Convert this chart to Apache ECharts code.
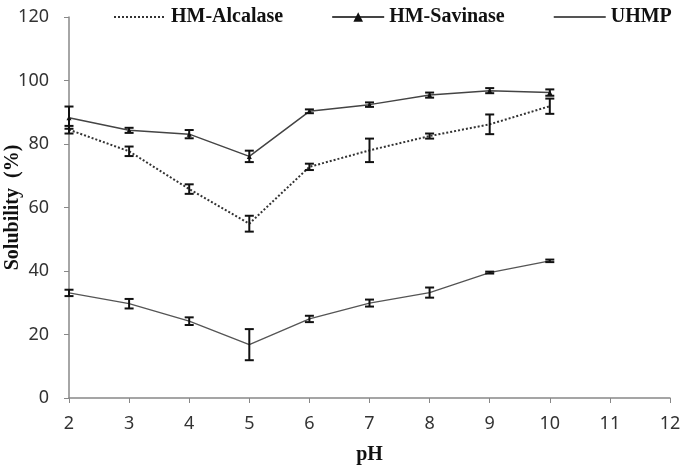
<!DOCTYPE html>
<html>
<head>
<meta charset="utf-8">
<script src="https://cdn.jsdelivr.net/npm/echarts@6/dist/echarts.min.js"></script>
<style>
  html, body { margin: 0; padding: 0; background: #fff; }
  #chart { width: 685px; height: 471px; }
</style>
</head>
<body>
<div id="chart"></div>
<script>
// pH values (x axis)
const phValues = [2, 3, 4, 5, 6, 7, 8, 9, 10]
// solubility (%) and its error
const alcalase = [84.5, 77.7, 65.8, 54.9, 72.8, 78.0, 82.5, 86.2, 91.9]
const alcalaseErr = [1.2, 1.5, 1.5, 2.5, 1.0, 3.7, 0.8, 3.1, 2.4]
const savinase = [88.3, 84.3, 83.1, 76.1, 90.3, 92.4, 95.4, 96.8, 96.2]
const savinaseErr = [3.5, 0.8, 1.3, 1.8, 0.6, 0.7, 0.8, 0.8, 1.0]
const uhmp = [33.1, 29.7, 24.2, 16.8, 24.9, 29.9, 33.2, 39.5, 43.2]
const uhmpErr = [1.0, 1.5, 1.2, 4.9, 1.0, 1.1, 1.6, 0.3, 0.4]
const seriesNames = ['HM-Alcalase', 'HM-Savinase', 'UHMP']

const chart = echarts.init(document.getElementById('chart'))

// 把数值转成 [x, y] 点
const toPoints = arr => arr.map((v, i) => [phValues[i], v])
// 误差线数据 [x, low, high]
const toErr = (arr, err) => arr.map((v, i) => [phValues[i], v - err[i], v + err[i]])

// 误差线 (工字形)
function errorSeries (arr, err) {
  return {
    type: 'custom',
    silent: true,
    z: 5,
    data: toErr(arr, err),
    encode: { x: 0, y: [1, 2] },
    renderItem (params, api) {
      const x = api.value(0)
      const lo = api.coord([x, api.value(1)])
      const hi = api.coord([x, api.value(2)])
      const w = 4.5
      const style = { stroke: '#111', lineWidth: 2 }
      return {
        type: 'group',
        children: [
          { type: 'line', shape: { x1: lo[0], y1: lo[1], x2: hi[0], y2: hi[1] }, style },
          { type: 'line', shape: { x1: lo[0] - w, y1: lo[1], x2: lo[0] + w, y2: lo[1] }, style },
          { type: 'line', shape: { x1: hi[0] - w, y1: hi[1], x2: hi[0] + w, y2: hi[1] }, style }
        ]
      }
    }
  }
}

const axisLabelStyle = { fontFamily: 'Noto Sans', fontSize: 18, color: '#333' }
const axisTitleStyle = { fontFamily: 'Liberation Serif', fontWeight: 'bold', fontSize: 20, color: '#111' }
const noMarker = { color: 'transparent', borderColor: 'transparent', borderWidth: 0 }

const option = {
  animation: false,
  backgroundColor: '#fff',
  grid: { left: 69, right: 15, top: 17, bottom: 73, outerBoundsMode: 'none' },
  legend: {
    data: [
      { name: seriesNames[0], itemStyle: noMarker },
      { name: seriesNames[1] },
      { name: seriesNames[2], itemStyle: noMarker }
    ],
    left: 108,
    top: 2,
    itemWidth: 52,
    itemHeight: 12,
    itemGap: 48,
    textStyle: { fontFamily: 'Liberation Serif', fontWeight: 'bold', fontSize: 20, color: '#111' }
  },
  xAxis: {
    type: 'value',
    min: 2,
    max: 12,
    interval: 1,
    name: 'pH',
    nameLocation: 'middle',
    nameGap: 47,
    nameMoveOverlap: false,
    nameTextStyle: axisTitleStyle,
    splitLine: { show: false },
    axisLine: { lineStyle: { color: '#888', width: 1.5 } },
    axisTick: { length: 5, lineStyle: { color: '#888' } },
    axisLabel: Object.assign({ margin: 17 }, axisLabelStyle)
  },
  yAxis: {
    type: 'value',
    min: 0,
    max: 120,
    interval: 20,
    name: 'Solubility  (%)',
    nameLocation: 'middle',
    nameGap: 46,
    nameMoveOverlap: false,
    nameTextStyle: axisTitleStyle,
    splitLine: { show: false },
    axisLine: { show: true, lineStyle: { color: '#888', width: 1.5 } },
    axisTick: { show: true, length: 5, lineStyle: { color: '#888' } },
    axisLabel: Object.assign({ margin: 20 }, axisLabelStyle)
  },
  series: [
    {
      name: seriesNames[0],
      type: 'line',
      data: toPoints(alcalase),
      symbol: 'none',
      color: '#333',
      lineStyle: { color: '#333', width: 2, type: [2, 2] }
    },
    {
      name: seriesNames[1],
      type: 'line',
      data: toPoints(savinase),
      symbol: 'triangle',
      symbolSize: 5,
      color: '#111',
      itemStyle: { color: '#111' },
      lineStyle: { color: '#444', width: 1.5 }
    },
    {
      name: seriesNames[2],
      type: 'line',
      data: toPoints(uhmp),
      symbol: 'none',
      color: '#444',
      lineStyle: { color: '#555', width: 1.3 }
    },
    errorSeries(alcalase, alcalaseErr),
    errorSeries(savinase, savinaseErr),
    errorSeries(uhmp, uhmpErr)
  ]
}

chart.setOption(option)
</script>
</body>
</html>
